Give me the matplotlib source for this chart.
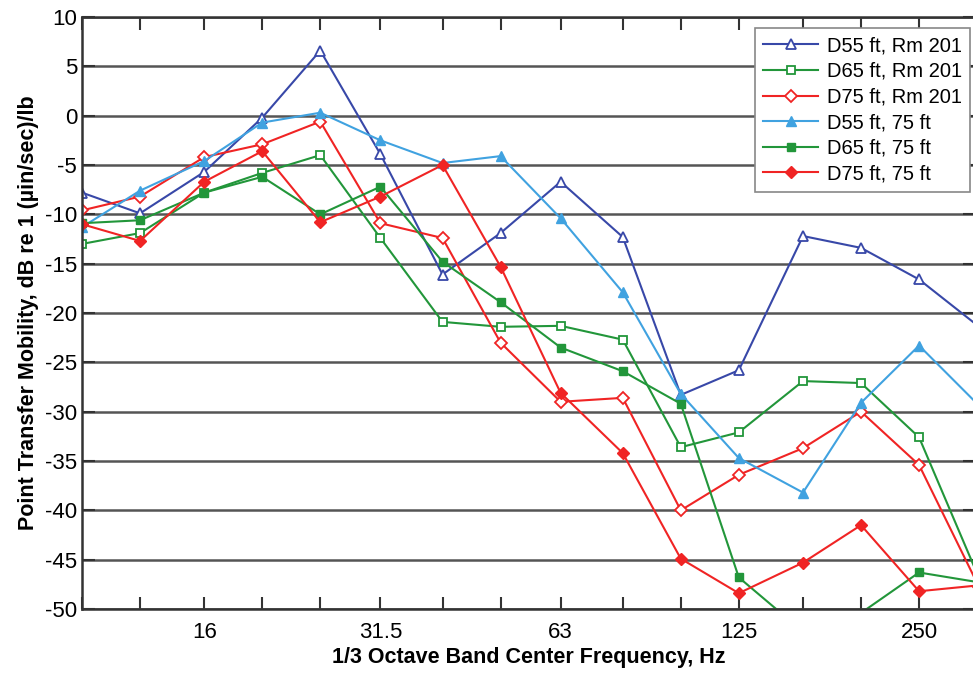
import matplotlib
matplotlib.use('Agg')
import matplotlib.pyplot as plt
from matplotlib.ticker import FixedLocator, NullFormatter, FixedFormatter

plt.rcParams['font.family'] = ['Liberation Sans', 'DejaVu Sans']
plt.rcParams['axes.unicode_minus'] = False

# 1/3 octave band centre frequencies (Hz)
freq = [10, 12.5, 16, 20, 25, 31.5, 40, 50, 63, 80, 100, 125, 160, 200, 250, 315]
tick_labels = ['16', '31.5', '63', '125', '250']
tick_freqs = [16, 31.5, 63, 125, 250]

# point transfer mobility, dB re 1 (uin/sec)/lb
d55_rm201 = [-7.8, -9.9, -5.7, -0.2, 6.6, -3.9, -16.1, -11.9, -6.7, -12.3, -28.3, -25.8, -12.2, -13.4, -16.6, -21.4]
d65_rm201 = [-13.0, -11.9, -7.8, -5.8, -4.0, -12.4, -20.9, -21.4, -21.3, -22.7, -33.6, -32.1, -26.9, -27.1, -32.6, -46.9]
d75_rm201 = [-9.6, -8.2, -4.2, -2.9, -0.6, -10.9, -12.4, -23.0, -29.0, -28.6, -40.0, -36.4, -33.7, -30.0, -35.4, -47.8]
d55_75ft = [-11.3, -7.6, -4.6, -0.7, 0.3, -2.5, -4.8, -4.1, -10.4, -17.9, -28.2, -34.7, -38.2, -29.1, -23.3, -29.4]
d65_75ft = [-10.9, -10.6, -7.8, -6.2, -10.0, -7.2, -14.8, -18.9, -23.5, -25.9, -29.2, -46.8, -52.3, -50.4, -46.3, -47.3]
d75_75ft = [-11.0, -12.7, -6.7, -3.6, -10.8, -8.2, -5.0, -15.3, -28.1, -34.2, -44.9, -48.4, -45.3, -41.5, -48.2, -47.6]

dark_blue = '#3848a8'
green = '#22963a'
red = '#f02424'
light_blue = '#40a2e0'

fig = plt.figure(figsize=(9.73, 6.75), dpi=100)
ax = fig.add_axes([82 / 973, 1 - 609 / 675, 893 / 973, 592 / 675])

lw = 1.5
ms = 7
ax.plot(freq, d55_rm201, color=dark_blue, lw=lw, marker='^', ms=ms, mfc='white', mew=1.3, label='D55 ft, Rm 201')
ax.plot(freq, d65_rm201, color=green, lw=lw, marker='s', ms=ms - 1, mfc='white', mew=1.3, label='D65 ft, Rm 201')
ax.plot(freq, d75_rm201, color=red, lw=lw, marker='D', ms=ms - 1, mfc='white', mew=1.3, label='D75 ft, Rm 201')
ax.plot(freq, d55_75ft, color=light_blue, lw=lw, marker='^', ms=ms, label='D55 ft, 75 ft')
ax.plot(freq, d65_75ft, color=green, lw=lw, marker='s', ms=ms - 1, label='D65 ft, 75 ft')
ax.plot(freq, d75_75ft, color=red, lw=lw, marker='D', ms=ms - 1, label='D75 ft, 75 ft')

ax.set_xscale('log')
ax.set_xlim(10, 310)
ax.set_ylim(-50, 10)

ax.xaxis.set_major_locator(FixedLocator(tick_freqs))
ax.xaxis.set_major_formatter(FixedFormatter(tick_labels))
ax.xaxis.set_minor_locator(FixedLocator(freq))
ax.xaxis.set_minor_formatter(NullFormatter())
ax.set_yticks(range(-50, 11, 5))

ax.tick_params(axis='both', which='both', direction='in', top=True, right=True,
               length=9, width=1.5, color='#333333', labelsize=16)
ax.tick_params(axis='x', which='major', pad=9)
ax.tick_params(axis='y', which='major', pad=3.5)
for s in ax.spines.values():
    s.set_linewidth(1.8)
    s.set_color('#333333')

ax.grid(True, axis='y', color='#555555', lw=1.8)
ax.set_axisbelow(True)

ax.set_xlabel('1/3 Octave Band Center Frequency, Hz', fontsize=15.5, fontweight='bold', labelpad=3)
ax.set_ylabel('Point Transfer Mobility, dB re 1 (\u00b5in/sec)/lb', fontsize=15.5, fontweight='bold', labelpad=4)

leg = ax.legend(loc='upper right', bbox_to_anchor=(0.9944, 0.981), borderaxespad=0, fontsize=14.5,
                frameon=True, fancybox=False, edgecolor='#888888', framealpha=1,
                handlelength=2.7, handletextpad=0.45, labelspacing=0.33, borderpad=0.4)
leg.get_frame().set_linewidth(1.2)

fig.savefig('out.png', dpi=100)
